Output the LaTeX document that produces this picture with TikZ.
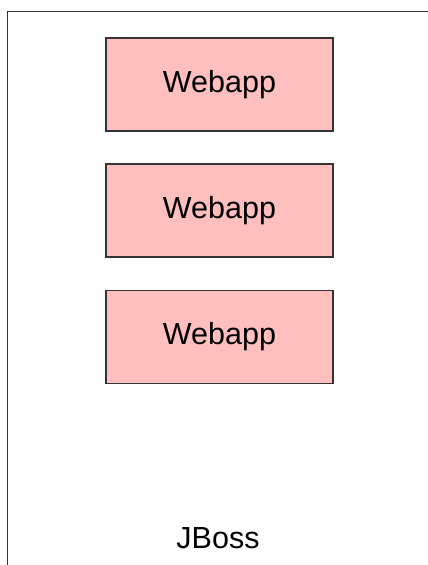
\documentclass[tikz,border=0pt]{standalone}
\usepackage{fontspec}
\setmainfont{Liberation Sans}
\definecolor{apppink}{HTML}{FFBFBF}
\definecolor{edge}{HTML}{333333}
\begin{document}
\begin{tikzpicture}[x=1pt,y=-1pt,
  appbox/.style={draw=edge,line width=1.4pt,fill=apppink,minimum width=227pt,minimum height=93pt,inner sep=0pt,
    font=\fontsize{30.5}{36}\selectfont},
  container/.style={draw=edge,line width=1.7pt,inner sep=0pt,anchor=north west},
  lbl/.style={font=\fontsize{30.5}{36}\selectfont,inner sep=0pt,anchor=base}]
\useasboundingbox (0,0) rectangle (428,565);
\clip (0,0) rectangle (428,565);
\fill[white] (0,0) rectangle (428,565);
\node[container,minimum width=440pt,minimum height=580pt] (jboss) at (6.5,10.7) {};
\node[appbox] (w1) at (219.5,84.5) {Webapp};
\node[appbox] (w2) at (219.5,210.5) {Webapp};
\node[appbox] (w3) at (219.5,337) {Webapp};
\node[lbl] (jl) at (218,548) {JBoss};
\end{tikzpicture}
\end{document}
